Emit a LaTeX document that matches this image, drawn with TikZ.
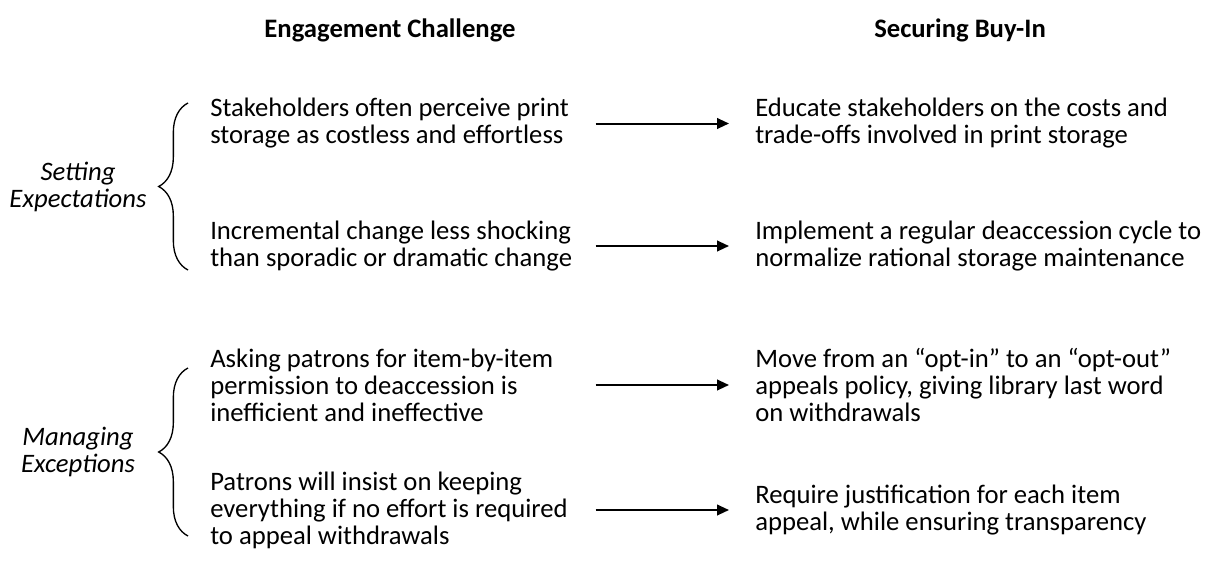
\documentclass[tikz,border=0pt]{standalone}
\usepackage{fontspec}
\setmainfont{Carlito}
\usepackage{tikz}
\usetikzlibrary{arrows.meta,decorations.pathreplacing}
\newcommand{\bodysize}{\fontsize{20}{20.25}\selectfont}

\tikzset{
  hdr/.style={font=\bodysize\bfseries},
  chal/.style={anchor=west, align=flush left, text width=288.75pt, inner sep=0pt, font=\bodysize},
  buyin/.style={anchor=west, align=flush left, inner sep=0pt, font=\bodysize},
  grp/.style={align=center, font=\bodysize\itshape, inner sep=0pt},
  arr/.style={-{Triangle[length=9pt,width=8pt]}, line width=1.5pt, shorten >=19.5pt},
  grpbrace/.style={decorate, decoration={brace, amplitude=22pt}, line width=1pt}
}

\begin{document}
\begin{tikzpicture}[x=0.75pt, y=-0.75pt]
  \useasboundingbox (0,0) rectangle (1212,561);
  \node[hdr] (hc) at (390,30) {Engagement Challenge};
  \node[hdr] (hb) at (960,30) {Securing Buy-In};
  % one row per challenge: left text, arrow, right text
  \foreach \n/\y/\lft/\rgt in {
      1/123.5/{Stakeholders often perceive print\\storage as costless and effortless}/{Educate stakeholders on the costs and\\trade-offs involved in print storage},
      2/246/{Incremental change less shocking\\than sporadic or dramatic change}/{Implement a regular deaccession cycle to\\normalize rational storage maintenance},
      3/385/{Asking patrons for item-by-item\\permission to deaccession is\\inefficient and ineffective}/{Move from an “opt-in” to an “opt-out”\\appeals policy, giving library last word\\on withdrawals},
      4/510/{Patrons will insist on keeping\\everything if no effort is required\\to appeal withdrawals}/{Require justification for each item\\appeal, while ensuring transparency}} {
    \node[chal] (c\n) at (210,\y) {\lft};
    \node[buyin] (b\n) at (755,\y) {\rgt};
    \draw[arr] (c\n.east) -- (b\n.west);
  }
  \node[grp] (g1) at (78,187) {Setting\\Expectations};
  \node[grp] (g2) at (78,452) {Managing\\Exceptions};
  \draw[grpbrace] (188,270) -- (188,103);
  \draw[grpbrace] (188,536) -- (188,368);
\end{tikzpicture}
\end{document}
